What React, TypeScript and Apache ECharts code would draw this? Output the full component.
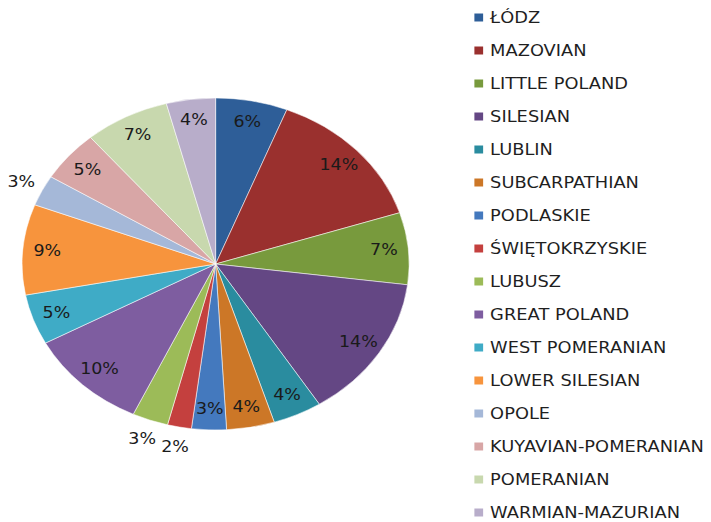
import React, { useEffect, useRef } from "react";
import * as echarts from "echarts";

const regions = [
  "ŁÓDZ",
  "MAZOVIAN",
  "LITTLE POLAND",
  "SILESIAN",
  "LUBLIN",
  "SUBCARPATHIAN",
  "PODLASKIE",
  "ŚWIĘTOKRZYSKIE",
  "LUBUSZ",
  "GREAT POLAND",
  "WEST POMERANIAN",
  "LOWER SILESIAN",
  "OPOLE",
  "KUYAVIAN-POMERANIAN",
  "POMERANIAN",
  "WARMIAN-MAZURIAN",
];

const shares = [6.0, 14.0, 7.0, 14.0, 4.1, 4.0, 2.9, 2.0, 3.0, 10.1, 4.9, 8.8, 3.0, 5.0, 7.1, 4.1];

const colors = [
  "#2E5E98",
  "#9A302E",
  "#789A3D",
  "#644784",
  "#2A8C9F",
  "#CC7727",
  "#4479BE",
  "#C4403E",
  "#9CBB58",
  "#7E5DA0",
  "#3FABC6",
  "#F7943D",
  "#A5B8D8",
  "#D8A6A6",
  "#C8D8AE",
  "#B8ADCA",
];

// slices whose percentage label sits outside the pie
const outsideLabels = ["ŚWIĘTOKRZYSKIE", "LUBUSZ", "OPOLE"];

const INNER_W = 610;
const H = 522;
const SCALE_X = 711 / INNER_W;

export default function App() {
  const ref = useRef<HTMLDivElement>(null);

  useEffect(() => {
    if (!ref.current) return;
    const chart = echarts.init(ref.current, undefined, { renderer: "svg" });
    const center = [185, 264];
    const R = 166;
    const fmt = (p: any) => Math.round(p.percent) + "%";
    const labelStyle = {
      fontFamily: "DejaVu Sans",
      fontSize: 15,
      color: "#1a1a1a",
    };

    chart.setOption({
      animation: false,
      backgroundColor: "#ffffff",
      legend: {
        orient: "vertical",
        left: 405,
        top: 10,
        height: 511,
        padding: 0,
        icon: "rect",
        itemWidth: 9.5,
        itemHeight: 10,
        itemGap: 18,
        data: regions,
        textStyle: {
          fontFamily: "DejaVu Sans",
          fontSize: 15.3,
          lineHeight: 15,
          color: "#1f1f1f",
        },
      },
      series: [
        {
          type: "pie",
          center,
          radius: R,
          startAngle: 90,
          clockwise: true,
          label: { show: false },
          labelLine: { show: false },
          itemStyle: { borderColor: "#ffffff", borderWidth: 0.5 },
          emphasis: { disabled: true },
          data: regions.map((name, i) => ({
            name,
            value: shares[i],
            itemStyle: { color: colors[i] },
          })),
        },
        {
          type: "pie",
          center,
          radius: [118, R],
          startAngle: 90,
          clockwise: true,
          silent: true,
          legendHoverLink: false,
          labelLine: { show: false },
          itemStyle: { color: "rgba(0,0,0,0)" },
          emphasis: { disabled: true },
          label: { show: true, position: "inside", formatter: fmt, ...labelStyle },
          data: regions.map((name, i) => ({
            name,
            value: shares[i],
            label: { show: !outsideLabels.includes(name) },
          })),
        },
        {
          type: "pie",
          center,
          radius: [R, 200],
          startAngle: 90,
          clockwise: true,
          silent: true,
          legendHoverLink: false,
          labelLine: { show: false },
          itemStyle: { color: "rgba(0,0,0,0)" },
          emphasis: { disabled: true },
          label: { show: true, position: "inside", formatter: fmt, ...labelStyle },
          data: regions.map((name, i) => ({
            name,
            value: shares[i],
            label: { show: outsideLabels.includes(name) },
          })),
        },
      ],
    });

    return () => chart.dispose();
  }, []);

  return (
    <div
      style={{
        position: "fixed",
        left: 0,
        top: 0,
        width: 711,
        height: H,
        overflow: "hidden",
        background: "#ffffff",
      }}
    >
      <div
        ref={ref}
        style={{
          width: INNER_W,
          height: H,
          transform: `scaleX(${SCALE_X})`,
          transformOrigin: "0 0",
        }}
      />
    </div>
  );
}
